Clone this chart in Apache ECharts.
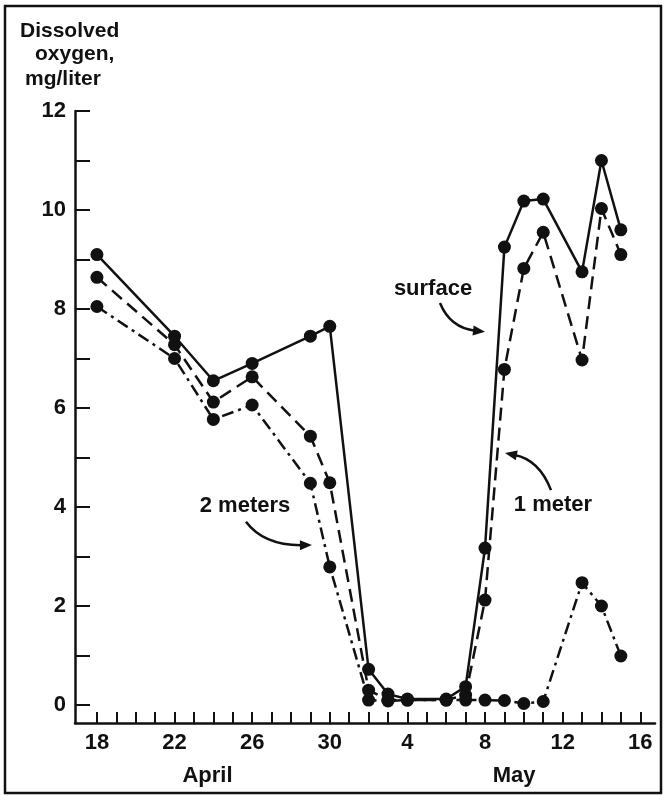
<!DOCTYPE html>
<html>
<head>
<meta charset="utf-8">
<script src="https://cdn.jsdelivr.net/npm/echarts@6/dist/echarts.min.js"></script>
<style>
  html, body { margin: 0; padding: 0; background: #fff; }
  #chart { width: 668px; height: 796px; }
</style>
</head>
<body>
<div id="chart"></div>
<script>
// Sampling days, counted from 1 April (a May date d is stored as 30 + d)
const sampleDays = [18, 22, 24, 26, 29, 30, 32, 33, 34, 36, 37, 38, 39, 40, 41, 43, 44, 45];

// Dissolved oxygen, mg/liter
const surface   = [9.1, 7.45, 6.55, 6.9, 7.45, 7.65, 0.72, 0.22, 0.12, 0.12, 0.37, 3.17, 9.25, 10.18, 10.22, 8.75, 11.0, 9.6];
const oneMeter  = [8.64, 7.28, 6.12, 6.63, 5.43, 4.49, 0.3, 0.1, 0.1, 0.1, 0.2, 2.12, 6.78, 8.82, 9.55, 6.97, 10.03, 9.1];
const twoMeters = [8.05, 7.0, 5.77, 6.06, 4.48, 2.79, 0.1, 0.08, 0.1, 0.1, 0.1, 0.1, 0.09, 0.03, 0.07, 2.47, 2.0, 0.99];

// Axis ticks and labels
const yTickValues  = [0, 1, 2, 3, 4, 5, 6, 7, 8, 9, 10, 11, 12];
const yLabelValues = [0, 2, 4, 6, 8, 10, 12];
const xTickValues  = [18, 19, 20, 21, 22, 23, 24, 25, 26, 27, 28, 29, 30, 31, 32, 33, 34, 35, 36, 37, 38, 39, 40, 41, 42, 43, 44, 45, 46];
const xLabelValues = [18, 22, 26, 30, 34, 38, 42, 46];
const monthNames   = ['April', 'May'];

const FONT = 'Liberation Sans, Arial, sans-serif';
const INK = '#111';

const chart = echarts.init(document.getElementById('chart'), null, { renderer: 'canvas' });

function seriesOf(values, dash, z) {
  return {
    type: 'line',
    data: sampleDays.map((d, i) => [d, values[i]]),
    symbol: 'circle',
    symbolSize: 13,
    itemStyle: { color: INK },
    lineStyle: { color: INK, width: 2.5, type: dash },
    z: z,
    animation: false
  };
}

chart.setOption({
  animation: false,
  backgroundColor: '#fff',
  grid: { left: 75, right: 13, top: 111, bottom: 73 },
  xAxis: {
    type: 'value',
    min: 16.87,
    max: 46.76,
    axisLine: { show: true, onZero: false, lineStyle: { color: INK, width: 2.5 } },
    axisTick: { show: true, inside: true, length: 11, customValues: xTickValues, lineStyle: { color: INK, width: 2 } },
    axisLabel: {
      show: true, customValues: xLabelValues, margin: 9,
      fontFamily: FONT, fontSize: 22, fontWeight: 'bold', color: INK,
      formatter: v => String(v > 30 ? v - 30 : v)
    },
    splitLine: { show: false }
  },
  yAxis: {
    type: 'value',
    min: -0.364,
    max: 12,
    axisLine: { show: true, onZero: false, lineStyle: { color: INK, width: 2.5 } },
    axisTick: { show: true, inside: true, length: 15, customValues: yTickValues, lineStyle: { color: INK, width: 2 } },
    axisLabel: {
      show: true, customValues: yLabelValues, margin: 9,
      fontFamily: FONT, fontSize: 22, fontWeight: 'bold', color: INK
    },
    splitLine: { show: false }
  },
  series: [
    seriesOf(twoMeters, [12, 5, 3, 5], 3),
    seriesOf(oneMeter, [13, 7], 4),
    seriesOf(surface, 'solid', 5)
  ]
});

// Curved annotation arrows, anchored in data space
function px(d, v) { return chart.convertToPixel({ xAxisIndex: 0, yAxisIndex: 0 }, [d, v]); }

function arrow(start, ctrl, end) {
  const p0 = px(start[0], start[1]);
  const c = px(ctrl[0], ctrl[1]);
  const p1 = px(end[0], end[1]);
  const dx = p1[0] - c[0], dy = p1[1] - c[1];
  const len = Math.hypot(dx, dy) || 1;
  const ux = dx / len, uy = dy / len;
  const headLen = 12, headHalf = 5;
  const bx = p1[0] - ux * headLen, by = p1[1] - uy * headLen;
  return [
    {
      type: 'bezierCurve',
      shape: { x1: p0[0], y1: p0[1], cpx1: c[0], cpy1: c[1], x2: bx + ux * 2, y2: by + uy * 2 },
      style: { stroke: INK, lineWidth: 2.5, fill: null },
      silent: true
    },
    {
      type: 'polygon',
      shape: { points: [[p1[0], p1[1]], [bx - uy * headHalf, by + ux * headHalf], [bx + uy * headHalf, by - ux * headHalf]] },
      style: { fill: INK },
      silent: true
    }
  ];
}

function label(text, d, v) {
  const p = px(d, v);
  return {
    type: 'text', x: p[0], y: p[1],
    style: { text: text, fill: INK, font: 'bold 22px ' + FONT, align: 'center', verticalAlign: 'middle' },
    silent: true
  };
}

function plainText(text, x, y) {
  return {
    type: 'text', x: x, y: y,
    style: { text: text, fill: INK, font: 'bold 21px ' + FONT, align: 'left', verticalAlign: 'middle' },
    silent: true
  };
}

const graphics = [
  // outer frame
  { type: 'rect', shape: { x: 5, y: 6, width: 656, height: 787 }, style: { fill: null, stroke: INK, lineWidth: 2.5 }, silent: true },
  // axis title
  plainText('Dissolved', 20, 31),
  plainText('oxygen,', 35, 54),
  plainText('mg/liter', 25, 79),
  // months under the date axis
  {
    type: 'text', x: px(23.7, 0)[0], y: 776,
    style: { text: monthNames[0], fill: INK, font: 'bold 22px ' + FONT, align: 'center', verticalAlign: 'middle' }, silent: true
  },
  {
    type: 'text', x: px(39.5, 0)[0], y: 776,
    style: { text: monthNames[1], fill: INK, font: 'bold 22px ' + FONT, align: 'center', verticalAlign: 'middle' }, silent: true
  },
  label('surface', 35.32, 8.40),
  label('1 meter', 41.5, 4.04),
  label('2 meters', 25.63, 4.02)
]
  .concat(arrow([35.68, 8.12], [36.2, 7.62], [38.0, 7.54]))
  .concat(arrow([41.4, 4.34], [40.8, 4.95], [39.03, 5.09]))
  .concat(arrow([25.68, 3.70], [26.6, 3.22], [29.08, 3.23]));

chart.setOption({ graphic: graphics });
</script>
</body>
</html>
